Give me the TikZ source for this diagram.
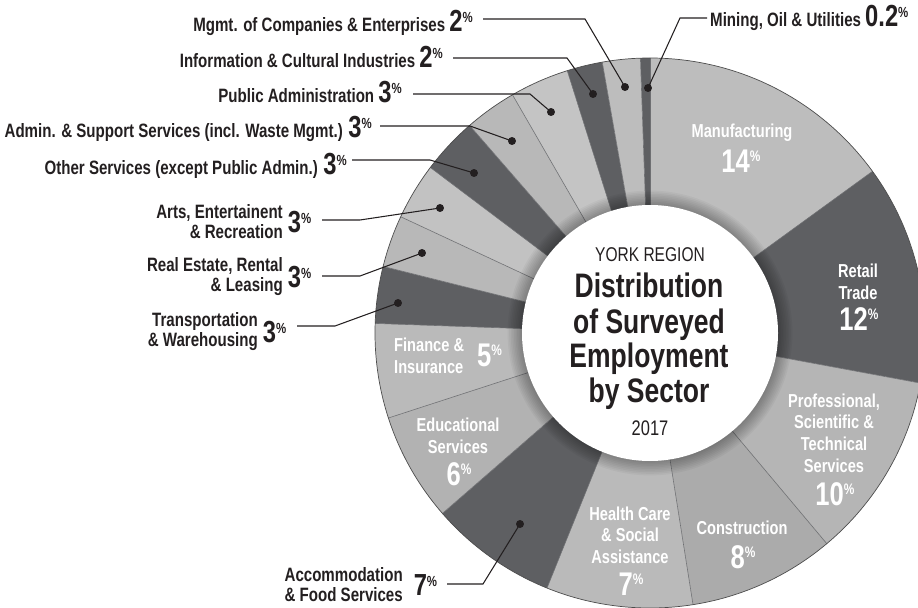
\documentclass[tikz,border=0pt]{standalone}
\usepackage{fontspec}
\setmainfont{Liberation Sans}
\newfontfamily\condfont[FakeStretch=0.78]{Liberation Sans}
\usetikzlibrary{positioning}

\definecolor{inktext}{HTML}{231F20}
\definecolor{darkslice}{HTML}{5E5F62}
\definecolor{sepgrey}{HTML}{6E6F72}

\newcommand{\pcnum}[1]{{\fontsize{26}{26}\selectfont #1}\raisebox{8pt}{\fontsize{12.5}{12.5}\selectfont\%}}
\newcommand{\pcin}[1]{{\fontsize{28}{28}\selectfont #1}\raisebox{9pt}{\fontsize{13}{13}\selectfont\%}}

\tikzset{
  callout/.style = {font = \condfont\bfseries\fontsize{16.5}{17}\selectfont, text = inktext, inner sep = 0pt},
  slicetext/.style = {font = \condfont\bfseries\fontsize{16}{18.5}\selectfont, text = white, align = center, inner sep = 0pt},
  titlebig/.style = {font = \condfont\bfseries\fontsize{29}{29}\selectfont, text = inktext, anchor = base, inner sep = 0pt},
  titlesmall/.style = {font = \condfont\fontsize{17}{17}\selectfont, text = inktext, anchor = base, inner sep = 0pt},
  leader/.style = {line width = 0.9pt, inktext},
  calloutdot/.style = {circle, fill = inktext, inner sep = 0pt, minimum size = 6.8pt}
}

\begin{document}
\begin{tikzpicture}[x = 0.03cm, y = 0.03cm]
\useasboundingbox (0,0) rectangle (918,607);
\clip (0,0) rectangle (918,607);

% slices, clockwise from the top
\foreach \a/\b/\col in {92/90/darkslice, 90/36/black!26!white, 36/-10.5/darkslice,
    -10.5/-50/black!29!white, -50/-81/black!33!white, -81/-112/black!27!white,
    -112/-139/darkslice, -139/-162/black!30!white, -162/-182/black!27!white,
    -182/-194/darkslice, -194/-205/black!28!white, -205/-217/black!24!white,
    -217/-229/darkslice, -229/-240/black!28!white, -240/-252.5/black!23!white,
    -252.5/-260/darkslice, -260/-268/black!26!white}
  \fill[\col] (650,274) -- +(\a:275) arc (\a:\b:275) -- cycle;
\foreach \a in {92,90,36,-10.5,-50,-81,-112,-139,-162,-182,-194,-205,-217,-229,-240,-252.5,-260}
  \draw[sepgrey, line width = 0.5pt] (650,274) -- +(\a:275);
\draw[black!70, line width = 0.6pt] (650,274) circle (275);

% centre disc
\foreach \k in {1,...,9}
  \fill[black, opacity = 0.035] (650,274) circle (128+\k*1.6);
\fill[white] (650,274) circle (128);

\node[titlesmall] (yorkT) at (650,345) {YORK REGION};
\node[titlebig] (distT) at (649,309) {Distribution};
\node[titlebig] (survT) at (649,273) {of Surveyed};
\node[titlebig] (emplT) at (649,239) {Employment};
\node[titlebig] (sectT) at (649,205) {by Sector};
\node[titlesmall, font = \condfont\fontsize{18}{18}\selectfont] (yearT) at (650,172) {2017};

% labels inside the slices
\node[slicetext] (manuT) at (742,474) {Manufacturing};
\node[slicetext] (manuN) at (741,446) {\pcin{14}};
\node[slicetext] (retaT) at (858,325) {Retail\\Trade};
\node[slicetext] (retaN) at (859,288) {\pcin{12}};
\node[slicetext] (profT) at (834,174) {Professional,\\Scientific \&\\Technical\\Services};
\node[slicetext] (profN) at (835,113) {\pcin{10}};
\node[slicetext] (consT) at (742,79) {Construction};
\node[slicetext] (consN) at (743,50) {\pcin{8}};
\node[slicetext] (healT) at (630,72) {Health Care\\\& Social\\Assistance};
\node[slicetext] (healN) at (631,23) {\pcin{7}};
\node[slicetext] (educT) at (458,171) {Educational\\Services};
\node[slicetext] (educN) at (459,133) {\pcin{6}};
\node[slicetext, align = left, anchor = west] (finaT) at (394,251) {Finance \&\\Insurance};
\node[slicetext, anchor = west] (finaN) at (477,252) {\pcin{5}};

% callouts
\node[callout, anchor = base west] (mineL) at (710,580) {Mining, Oil \& Utilities \pcnum{0.2}};
\coordinate (mineS) at (707,589);
\coordinate (mineE) at (680,589);
\node[calloutdot] (mineD) at (648,519) {};
\draw[leader] (mineS) -- (mineE) -- (mineD.center);

\node[callout, anchor = base east] (mgmtL) at (473,575) {Mgmt. of Companies \& Enterprises \pcnum{2}};
\coordinate (mgmtS) at (483,588);
\coordinate (mgmtE) at (585,588);
\node[calloutdot] (mgmtD) at (625,520) {};
\draw[leader] (mgmtS) -- (mgmtE) -- (mgmtD.center);

\node[callout, anchor = base east] (infoL) at (443,539) {Information \& Cultural Industries \pcnum{2}};
\coordinate (infoS) at (453,549);
\coordinate (infoE) at (567,549);
\node[calloutdot] (infoD) at (593,513) {};
\draw[leader] (infoS) -- (infoE) -- (infoD.center);

\node[callout, anchor = base east] (publL) at (402,504) {Public Administration \pcnum{3}};
\coordinate (publS) at (413,513);
\coordinate (publE) at (530,513);
\node[calloutdot] (publD) at (551,495) {};
\draw[leader] (publS) -- (publE) -- (publD.center);

\node[callout, anchor = base east] (admiL) at (372,469) {Admin. \& Support Services (incl. Waste Mgmt.) \pcnum{3}};
\coordinate (admiS) at (380,481);
\coordinate (admiE) at (470,481);
\node[calloutdot] (admiD) at (512,466) {};
\draw[leader] (admiS) -- (admiE) -- (admiD.center);

\node[callout, anchor = base east] (othrL) at (347,432) {Other Services (except Public Admin.) \pcnum{3}};
\coordinate (othrS) at (352,447);
\coordinate (othrE) at (430,447);
\node[calloutdot] (othrD) at (474,434) {};
\draw[leader] (othrS) -- (othrE) -- (othrD.center);

\node[callout, align = right, anchor = east] (artsT) at (283,385) {Arts, Entertainent\\\& Recreation};
\node[callout, right = 4pt of artsT] (artsN) {\pcnum{3}};
\coordinate (artsS) at (322,387);
\coordinate (artsE) at (360,387);
\node[calloutdot] (artsD) at (440,399) {};
\draw[leader] (artsS) -- (artsE) -- (artsD.center);

\node[callout, align = right, anchor = east] (realT) at (283,330) {Real Estate, Rental\\\& Leasing};
\node[callout, right = 4pt of realT] (realN) {\pcnum{3}};
\coordinate (realS) at (322,331);
\coordinate (realE) at (360,331);
\node[calloutdot] (realD) at (422,354) {};
\draw[leader] (realS) -- (realE) -- (realD.center);

\node[callout, align = right, anchor = east] (tranT) at (258,275) {Transportation\\\& Warehousing};
\node[callout, right = 4pt of tranT] (tranN) {\pcnum{3}};
\coordinate (tranS) at (297,281);
\coordinate (tranE) at (335,281);
\node[calloutdot] (tranD) at (398,304) {};
\draw[leader] (tranS) -- (tranE) -- (tranD.center);

\node[callout, align = center, anchor = east] (accoT) at (403,22) {Accommodation\\\& Food Services};
\node[callout, right = 9pt of accoT] (accoN) {\pcnum{7}};
\coordinate (accoS) at (447,23);
\coordinate (accoE) at (483,23);
\node[calloutdot] (accoD) at (520,83) {};
\draw[leader] (accoS) -- (accoE) -- (accoD.center);
\end{tikzpicture}
\end{document}
